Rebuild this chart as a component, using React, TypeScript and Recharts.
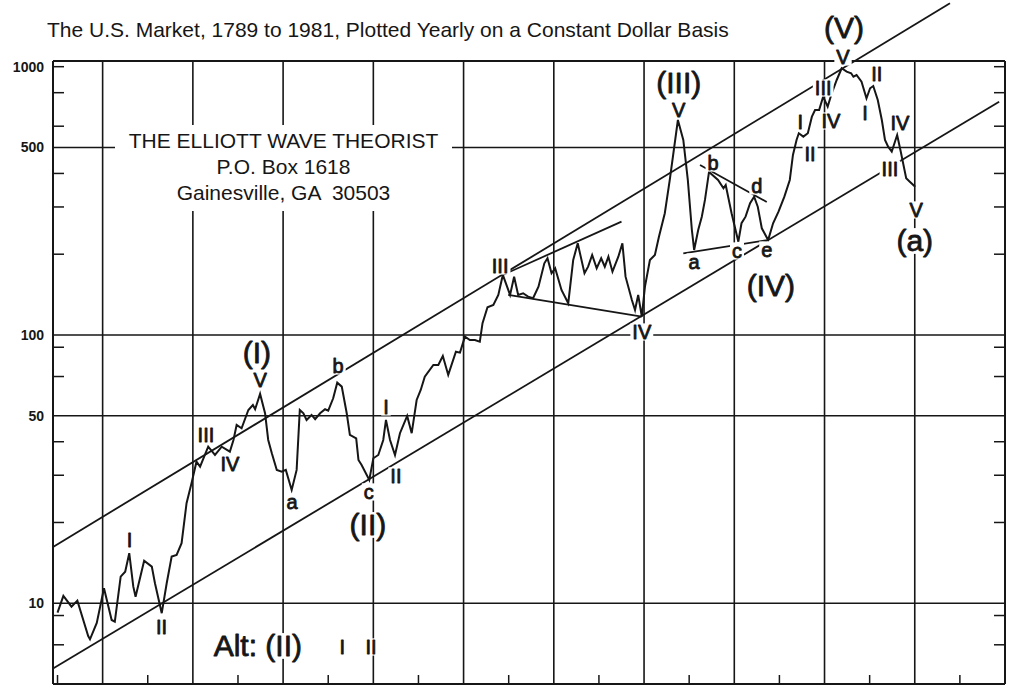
import React from 'react';
import { ComposedChart, Line, XAxis, YAxis, ReferenceLine, ReferenceDot } from 'recharts';

const FONT = "'Liberation Sans', Arial, Helvetica, sans-serif";
const INK = '#161616';

// yearly constant-dollar index at each turning point
const years = [
  1790.0, 1791.3, 1793.1, 1794.4, 1796.8, 1797.2, 1798.7, 1800.3, 1802.0, 1802.7,
  1804.0, 1805.0, 1805.9, 1806.8, 1807.3, 1809.2, 1810.9, 1811.6, 1813.1, 1814.2,
  1815.3, 1816.4, 1817.5, 1818.6, 1819.7, 1820.8, 1821.6, 1823.4, 1824.9, 1826.4,
  1828.2, 1829.0, 1829.7, 1830.8, 1832.3, 1833.3, 1833.8, 1834.9, 1836.0, 1836.7,
  1837.5, 1838.6, 1839.7, 1840.6, 1841.9, 1843.0, 1843.7, 1844.5, 1845.2, 1846.3,
  1847.1, 1848.2, 1849.3, 1850.0, 1851.1, 1852.0, 1853.0, 1854.1, 1854.8, 1856.2,
  1856.7, 1857.4, 1859.1, 1860.0, 1861.1, 1862.2, 1862.8, 1863.7, 1864.8, 1865.9,
  1867.5, 1868.5, 1869.6, 1870.5, 1871.4, 1873.3, 1874.4, 1875.4, 1876.6, 1878.3,
  1879.2, 1880.3, 1881.4, 1882.5, 1883.6, 1884.2, 1885.3, 1886.6, 1887.7, 1888.7,
  1890.3, 1891.2, 1892.1, 1893.2, 1894.3, 1895.4, 1896.6, 1897.9, 1898.6, 1899.5,
  1900.3, 1901.7, 1903.2, 1904.3, 1905.3, 1906.8, 1907.6, 1908.5, 1909.5, 1910.5,
  1911.3, 1912.1, 1913.0, 1914.3, 1915.2, 1915.9, 1917.3, 1918.0, 1918.7, 1919.5,
  1920.2, 1921.3, 1922.4, 1923.3, 1924.6, 1925.7, 1927.5, 1928.7, 1929.7, 1930.6,
  1931.1, 1932.0, 1932.8, 1933.5, 1934.4, 1936.4, 1937.6, 1938.1, 1939.4, 1940.9,
  1941.6, 1942.5, 1943.5, 1944.4, 1945.2, 1946.1, 1947.5, 1948.6, 1949.8, 1951.1,
  1952.3, 1953.0, 1953.8, 1954.3, 1955.3, 1956.3, 1957.2, 1957.9, 1958.8, 1959.7,
  1960.7, 1961.6, 1962.7, 1963.8, 1964.9, 1965.9, 1966.4, 1967.1, 1968.2, 1969.3,
  1970.1, 1970.8, 1971.8, 1972.7, 1973.4, 1974.1, 1974.9, 1976.1, 1976.9, 1978.1,
  1978.9, 1980.1,
];
const values = [
  9.22, 10.65, 9.71, 10.23, 7.55, 7.34, 8.44, 11.37, 8.66, 8.54,
  12.56, 13.11, 15.36, 11.53, 10.58, 14.41, 13.69, 11.87, 9.18, 11.87,
  14.92, 15.14, 16.74, 23.59, 28.01, 33.71, 32.29, 38.33, 35.7, 38.33,
  36.73, 40.61, 46.19, 44.9, 52.53, 54.84, 52.84, 60.28, 51.07, 40.61,
  36.22, 31.4, 30.94, 31.4, 26.44, 31.4, 52.53, 51.07, 48.22, 50.33,
  48.51, 51.07, 52.84, 52.21, 58.07, 66.42, 64.18, 51.07, 42.41, 41.2,
  34.21, 32.76, 28.81, 34.71, 35.7, 40.61, 48.22, 40.61, 35.7, 43.03,
  49.9, 43.03, 57.23, 62.37, 69.92, 77.29, 77.29, 83.48, 70.96, 86.61,
  85.9, 98.53, 95.79, 95.79, 94.41, 110.6, 126.8, 129.3, 141.0, 167.4,
  141.0, 164.9, 141.0, 143.0, 138.9, 137.0, 151.4, 185.0, 193.1, 169.8,
  177.3, 147.2, 131.3, 190.3, 219.6, 169.8, 179.7, 198.7, 177.3, 193.1,
  179.7, 195.8, 172.2, 195.8, 219.6, 164.9, 135.0, 123.9, 141.0, 117.0,
  151.4, 190.3, 198.7, 232.4, 284.2, 378.3, 632.8, 533.2, 378.3, 246.2,
  207.4, 246.2, 276.0, 318.6, 405.1, 378.3, 352.2, 362.2, 284.2, 222.7,
  260.9, 276.0, 309.7, 327.7, 300.8, 249.8, 225.9, 260.9, 288.1, 327.7,
  378.3, 468.8, 533.2, 564.7, 548.5, 564.7, 651.0, 689.6, 689.6, 772.9,
  709.6, 795.8, 892.1, 986.3, 957.9, 945.0, 917.8, 931.1, 879.0, 762.5,
  830.8, 847.2, 751.4, 632.8, 533.2, 503.3, 482.2, 556.5, 482.2, 383.7,
  372.6, 357.0,
];
const series = years.map((year, i) => ({ year, value: values[i] }));

const gridYears = [1800, 1820, 1840, 1860, 1880, 1900, 1920, 1940, 1960, 1980];
const gridValues = [10, 50, 100, 500];
const decadeTicks = [1790, 1810, 1830, 1850, 1870, 1890, 1910, 1930, 1950, 1970, 1990];
const labelledValues = [10, 50, 100, 500, 1000];
const minorValues = [6, 7, 8, 9, 20, 30, 40, 60, 70, 80, 90, 200, 300, 400, 600, 700, 800, 1000];

// channel and trend lines as [year, value] end points
const trendLines: [number, number][][] = [
  [[1789.1, 16.25], [1987.8, 1723]],
  [[1789.1, 5.72], [1998.7, 740.5]],
  [[1888.7, 167.4], [1915.0, 264.4]],
  [[1889.9, 141.0], [1919.5, 117.0]],
  [[1928.7, 201.6], [1947.5, 225.9]],
  [[1932.4, 430.1], [1947.2, 313.2]],
];

// wave counts: text, year, value
const smallLabels: [string, number, number][] = [
  ['I', 1805.95, 17.22], ['II', 1813.05, 8.16], ['III', 1822.9, 42.41], ['IV', 1828.2, 33.05],
  ['V', 1834.9, 67.96], ['a', 1842.0, 23.85], ['b', 1852.2, 76.63], ['I', 1862.8, 53.9],
  ['c', 1859.0, 25.99], ['II', 1865.0, 29.82], ['I', 1853.1, 6.87], ['II', 1859.5, 6.87],
  ['III', 1888.1, 180.8], ['IV', 1919.5, 102.6], ['V', 1927.7, 689.6], ['a', 1931.1, 187.1],
  ['b', 1935.3, 437.5], ['c', 1940.6, 205.6], ['d', 1945.0, 359.2], ['e', 1947.2, 207.4],
  ['I', 1954.6, 622.0], ['II', 1956.8, 472.7], ['III', 1959.7, 832.9], ['IV', 1961.4, 627.5],
  ['V', 1964.1, 1086.6], ['II', 1971.6, 939.1], ['I', 1969.0, 672.0], ['IV', 1976.7, 616.8],
  ['III', 1974.5, 415.7], ['V', 1980.3, 292.4],
];
const bigLabels: [string, number, number][] = [
  ['(I)', 1834.2, 86.39], ['(II)', 1858.8, 19.58], ['Alt: (II)', 1834.4, 6.93],
  ['(III)', 1927.7, 876.8], ['(IV)', 1948.1, 152.3], ['(V)', 1964.3, 1394], ['(a)', 1980.0, 224.0],
];

const noTick = () => <g />;

// rough Liberation Sans advance widths (em) for sizing the white backing box
const GLYPH_EM: Record<string, number> = {
  I: 0.278, V: 0.667, '(': 0.333, ')': 0.333, a: 0.556, b: 0.556, c: 0.5, d: 0.556,
  e: 0.556, A: 0.667, l: 0.222, t: 0.278, ':': 0.278, ' ': 0.278,
};
const textWidth = (text: string, size: number) =>
  text.split('').reduce((s, ch) => s + (GLYPH_EM[ch] ?? 0.55), 0) * size;

// wave label on a white box, so grid and channel lines break around it
const textShape = (text: string, size: number) => (p: any) => {
  const w = textWidth(text, size) + 4;
  const h = size * 0.86;
  return (
    <g>
      <rect x={p.cx - w / 2} y={p.cy - h / 2} width={w} height={h} fill="#fff" />
      <text
        x={p.cx}
        y={p.cy}
        textAnchor="middle"
        dominantBaseline="central"
        fontSize={size}
        fontFamily={FONT}
        fill={INK}
        stroke={INK}
        strokeWidth={0.8}
        strokeLinejoin="round"
      >
        {text}
      </text>
    </g>
  );
};

const YEAR_DOMAIN = [1789, 2000];
const VALUE_DOMAIN = [5, 1050];

export default function App() {
  const dotProps: any = { xAxisId: 'x', yAxisId: 'v', r: 1, ifOverflow: 'visible' };
  return (
    <div style={{ position: 'absolute', left: 0, top: 0, width: 1011, height: 700, background: '#fff' }}>
      <ComposedChart width={1011} height={700} margin={{ top: 61, right: 6, bottom: 16, left: 0 }}>
        <XAxis
          xAxisId="x"
          type="number"
          dataKey="year"
          domain={YEAR_DOMAIN}
          allowDataOverflow
          ticks={decadeTicks}
          orientation="bottom"
          mirror
          height={1}
          tick={noTick}
          tickSize={9}
          tickLine={{ stroke: INK, strokeWidth: 1.5 }}
          axisLine={{ stroke: INK, strokeWidth: 2 }}
        />
        <XAxis
          xAxisId="top"
          type="number"
          domain={YEAR_DOMAIN}
          allowDataOverflow
          ticks={decadeTicks}
          orientation="top"
          mirror
          height={1}
          tick={noTick}
          tickSize={10}
          tickLine={{ stroke: INK, strokeWidth: 1.5 }}
          axisLine={{ stroke: INK, strokeWidth: 2 }}
        />
        <YAxis
          yAxisId="v"
          type="number"
          scale="log"
          domain={VALUE_DOMAIN}
          allowDataOverflow
          ticks={labelledValues}
          width={53}
          tickSize={0}
          tickMargin={9}
          tickLine={false}
          axisLine={{ stroke: INK, strokeWidth: 2 }}
          tick={{ fill: INK, fontSize: 14, fontWeight: 'bold', fontFamily: FONT }}
        />
        <YAxis
          yAxisId="minorL"
          type="number"
          scale="log"
          domain={VALUE_DOMAIN}
          allowDataOverflow
          ticks={minorValues}
          mirror
          width={1}
          tick={noTick}
          tickSize={11}
          tickLine={{ stroke: INK, strokeWidth: 1.5 }}
          axisLine={false}
        />
        <YAxis
          yAxisId="minorR"
          orientation="right"
          type="number"
          scale="log"
          domain={VALUE_DOMAIN}
          allowDataOverflow
          ticks={minorValues}
          mirror
          width={1}
          tick={noTick}
          tickSize={11}
          tickLine={{ stroke: INK, strokeWidth: 1.5 }}
          axisLine={{ stroke: INK, strokeWidth: 2 }}
        />

        {gridYears.map((yr) => (
          <ReferenceLine key={'gx' + yr} x={yr} xAxisId="x" yAxisId="v" stroke={INK} strokeWidth={1.6} />
        ))}
        {gridValues.map((v) => (
          <ReferenceLine key={'gy' + v} y={v} xAxisId="x" yAxisId="v" stroke={INK} strokeWidth={1.6} />
        ))}
        {trendLines.map((seg, i) => (
          <ReferenceLine
            key={'t' + i}
            xAxisId="x"
            yAxisId="v"
            ifOverflow="visible"
            segment={[{ x: seg[0][0], y: seg[0][1] }, { x: seg[1][0], y: seg[1][1] }]}
            stroke={INK}
            strokeWidth={1.8}
          />
        ))}

        <Line
          data={series}
          xAxisId="x"
          yAxisId="v"
          dataKey="value"
          type="linear"
          stroke={INK}
          strokeWidth={2}
          dot={false}
          activeDot={false}
          isAnimationActive={false}
        />
      </ComposedChart>

      {/* wave counts sit in a second, identical plot laid over the first so their
          white boxes cover the grid and channel lines */}
      <div style={{ position: 'absolute', left: 0, top: 0, width: 1011, height: 700, pointerEvents: 'none' }}>
        <ComposedChart width={1011} height={700} margin={{ top: 61, right: 6, bottom: 16, left: 53 }}>
          <XAxis xAxisId="x" type="number" dataKey="year" domain={YEAR_DOMAIN} allowDataOverflow hide />
          <YAxis yAxisId="v" type="number" scale="log" domain={VALUE_DOMAIN} allowDataOverflow hide />
          <Line
            data={series}
            xAxisId="x"
            yAxisId="v"
            dataKey="value"
            stroke="none"
            dot={false}
            activeDot={false}
            isAnimationActive={false}
          />
          {smallLabels.map(([t, yr, v], i) => (
            <ReferenceDot key={'s' + i} x={yr} y={v} {...dotProps} shape={textShape(t, 20)} />
          ))}
          {bigLabels.map(([t, yr, v], i) => (
            <ReferenceDot key={'b' + i} x={yr} y={v} {...dotProps} shape={textShape(t, 30)} />
          ))}
        </ComposedChart>
      </div>

      <div
        style={{
          position: 'absolute', left: 47, top: 18, fontFamily: FONT, fontSize: 21,
          lineHeight: '24px', color: INK, whiteSpace: 'nowrap',
        }}
      >
        The U.S. Market, 1789 to 1981, Plotted Yearly on a Constant Dollar Basis
      </div>
      <div
        style={{
          position: 'absolute', left: 115, top: 125, width: 337, height: 86, paddingTop: 3,
          boxSizing: 'border-box', background: '#fff', fontFamily: FONT, fontSize: 21,
          lineHeight: '26px', color: INK, textAlign: 'center', whiteSpace: 'pre',
        }}
      >
        {'THE ELLIOTT WAVE THEORIST\nP.O. Box 1618\nGainesville, GA  30503'}
      </div>
    </div>
  );
}
